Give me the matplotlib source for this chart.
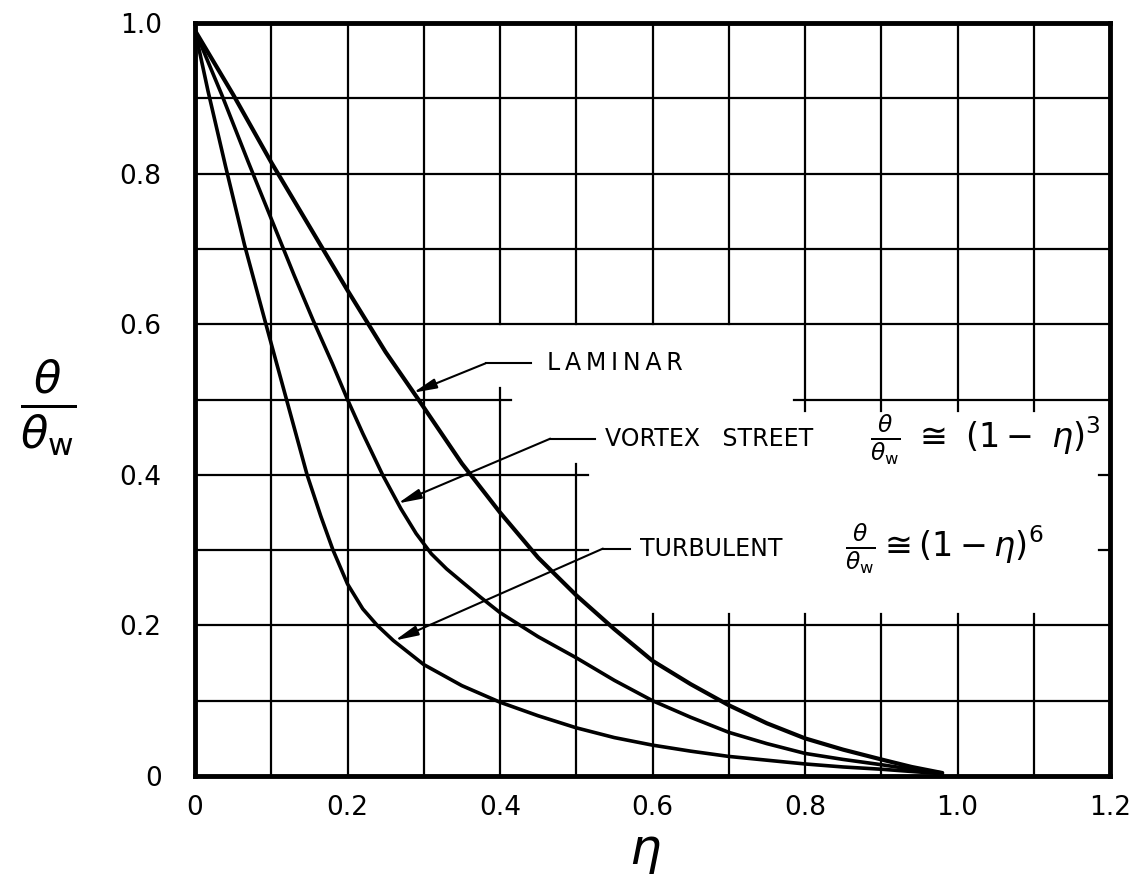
import matplotlib.pyplot as plt

# temperature profiles (eta, theta/theta_w)
eta_laminar = [0.0, 0.05, 0.1, 0.15, 0.2, 0.25, 0.293, 0.35, 0.4, 0.45,
               0.5, 0.55, 0.6, 0.65, 0.7, 0.75, 0.8, 0.85, 0.9, 0.94, 0.98]
theta_laminar = [0.99, 0.905, 0.815, 0.73, 0.645, 0.563, 0.50, 0.415, 0.35, 0.29,
                 0.24, 0.195, 0.153, 0.122, 0.094, 0.07, 0.05, 0.035, 0.022, 0.012, 0.004]

eta_vortex = [0.0, 0.035, 0.07, 0.1, 0.13, 0.155, 0.18, 0.2, 0.22, 0.246, 0.27,
              0.29, 0.31, 0.33, 0.35, 0.375, 0.4, 0.45, 0.5, 0.55, 0.6, 0.65,
              0.7, 0.75, 0.8, 0.85, 0.9, 0.94, 0.98]
theta_vortex = [0.99, 0.905, 0.815, 0.74, 0.665, 0.605, 0.548, 0.50, 0.455, 0.40, 0.355,
                0.322, 0.295, 0.275, 0.258, 0.237, 0.217, 0.185, 0.157, 0.127, 0.10, 0.078,
                0.058, 0.043, 0.03, 0.022, 0.015, 0.009, 0.004]

eta_turb = [0.0, 0.017, 0.04, 0.065, 0.093, 0.12, 0.147, 0.165, 0.181, 0.2, 0.22,
            0.239, 0.26, 0.3, 0.35, 0.4, 0.45, 0.5, 0.55, 0.6, 0.65, 0.7, 0.75,
            0.8, 0.85, 0.9, 0.94, 0.98]
theta_turb = [0.99, 0.91, 0.81, 0.705, 0.60, 0.50, 0.40, 0.345, 0.30, 0.255, 0.222,
              0.20, 0.18, 0.148, 0.12, 0.098, 0.08, 0.064, 0.051, 0.041, 0.033, 0.026, 0.021,
              0.016, 0.012, 0.009, 0.006, 0.003]

x_ticks = [0, 0.2, 0.4, 0.6, 0.8, 1.0, 1.2]
x_tick_labels = ['0', '0.2', '0.4', '0.6', '0.8', '1.0', '1.2']
y_ticks = [0, 0.2, 0.4, 0.6, 0.8, 1.0]
y_tick_labels = ['0', '0.2', '0.4', '0.6', '0.8', '1.0']

# grid drawn by hand, leaving room for the curve labels
# (position, [(start, end), ...])
v_grid = [
    (0.1, [(0, 1)]), (0.2, [(0, 1)]), (0.3, [(0, 1)]),
    (0.4, [(0.6, 1), (0, 0.515)]),
    (0.5, [(0.6, 1), (0, 0.415)]),
    (0.6, [(0.6, 1), (0, 0.215)]),
    (0.7, [(0.6, 1), (0, 0.215)]),
    (0.8, [(0.485, 1), (0, 0.215)]),
    (0.9, [(0.485, 1), (0, 0.215)]),
    (1.0, [(0.485, 1), (0, 0.215)]),
    (1.1, [(0.485, 1), (0, 0.215)]),
]
h_grid = [
    (0.9, [(0, 1.2)]), (0.8, [(0, 1.2)]), (0.7, [(0, 1.2)]), (0.6, [(0, 1.2)]),
    (0.5, [(0, 0.415), (0.785, 1.2)]),
    (0.4, [(0, 0.515), (1.185, 1.2)]),
    (0.3, [(0, 0.515), (1.185, 1.2)]),
    (0.2, [(0, 1.2)]), (0.1, [(0, 1.2)]),
]

plt.rcParams['font.family'] = ['DejaVu Sans']
plt.rcParams['mathtext.fontset'] = 'dejavusans'

fig = plt.figure(figsize=(11.34, 8.85), dpi=100)
ax = fig.add_axes([195 / 1134, 1 - 776 / 885, 915 / 1134, 753 / 885])

for x, spans in v_grid:
    for y0, y1 in spans:
        ax.plot([x, x], [y0, y1], color='black', lw=1.6, zorder=1)
for y, spans in h_grid:
    for x0, x1 in spans:
        ax.plot([x0, x1], [y, y], color='black', lw=1.6, zorder=1)

curve_style = dict(color='black', zorder=3, solid_joinstyle='round', solid_capstyle='round')
ax.plot(eta_laminar, theta_laminar, lw=3.0, **curve_style)
ax.plot(eta_vortex, theta_vortex, lw=2.6, **curve_style)
ax.plot(eta_turb, theta_turb, lw=2.6, **curve_style)

# leader lines: horizontal run from the label, then a slanted arrow to the curve
arrow = dict(arrowstyle='-|>,head_length=1.4,head_width=0.3', lw=1.5,
             color='black', shrinkA=0, shrinkB=0)
label_font = dict(fontsize=17, ha='left', va='center')
ts = '\u2009'

ax.plot([0.381, 0.44], [0.548, 0.548], color='black', lw=1.5)
ax.annotate('', xy=(0.286, 0.509), xytext=(0.381, 0.548), arrowprops=arrow)
ax.text(0.462, 0.548, ts.join('LAMINAR'), **label_font)

ax.plot([0.466, 0.525], [0.448, 0.448], color='black', lw=1.5)
ax.annotate('', xy=(0.266, 0.362), xytext=(0.466, 0.448), arrowprops=arrow)
ax.text(0.538, 0.447, 'VORTEX   STREET', **label_font)
ax.text(0.885, 0.447, r'$\frac{\theta}{\theta_\mathrm{w}}\ \cong\ (1-\ \eta)^3$',
        fontsize=24, ha='left', va='center')

ax.plot([0.535, 0.571], [0.302, 0.302], color='black', lw=1.5)
ax.annotate('', xy=(0.262, 0.180), xytext=(0.535, 0.302), arrowprops=arrow)
ax.text(0.584, 0.302, 'TURBULENT', **label_font)
ax.text(0.853, 0.302, r'$\frac{\theta}{\theta_\mathrm{w}}\cong(1-\eta)^6$',
        fontsize=24, ha='left', va='center')

ax.set_xlim(0, 1.2)
ax.set_ylim(0, 1.0)
ax.set_xticks(x_ticks)
ax.set_xticklabels(x_tick_labels, fontsize=19)
ax.set_yticks(y_ticks)
ax.set_yticklabels(y_tick_labels, fontsize=19)
ax.tick_params(length=0, pad=14)
ax.tick_params(axis='y', pad=24)
for spine in ax.spines.values():
    spine.set_linewidth(3.5)
    spine.set_zorder(4)

fig.text(48 / 1134, 1 - 408 / 885, r'$\frac{\theta}{\theta_\mathrm{w}}$', fontsize=46,
         ha='center', va='center')
fig.text(645 / 1134, 1 - 852 / 885, r'$\eta$', fontsize=36,
         ha='center', va='center')

fig.savefig('out.png', dpi=100, facecolor='white')
